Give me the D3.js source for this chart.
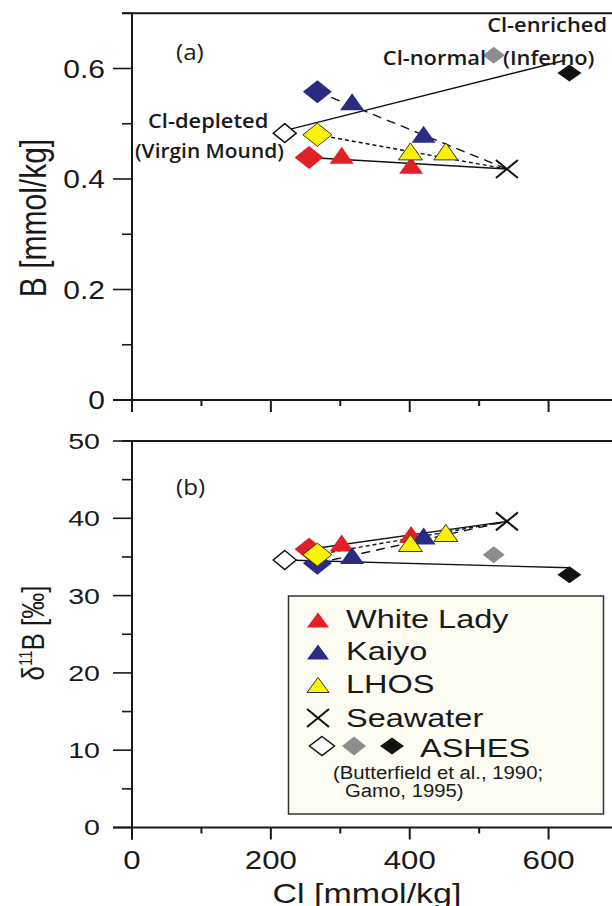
<!DOCTYPE html>
<html>
<head>
<meta charset="utf-8">
<style>
  body { margin: 0; background: #fff; }
  svg { display: block; }
</style>
</head>
<body>
<svg id="chart" width="612" height="906"></svg>
<script src="https://cdn.jsdelivr.net/npm/d3@7/dist/d3.min.js"></script>
<script>
// Cl [mmol/kg], B [mmol/kg], d11B [permil]
const seriesNames = ["White Lady", "Kaiyo", "LHOS"];
const seriesColors = ["#e11f26", "#2a2c83", "#fff200"];
const seriesDash = [null, "9,6", "4,3"];

// triangles (two samples per field)
const wlCl = [302, 402], wlB = [0.443, 0.425], wlD = [36.8, 37.9];
const kaCl = [317, 420], kaB = [0.540, 0.481], kaD = [35.2, 37.7];
const lhCl = [401, 452], lhB = [0.450, 0.450], lhD = [36.8, 38.1];

// end-member diamonds: White Lady, Kaiyo, LHOS
const emCl = [255, 267, 267];
const emB = [0.439, 0.558, 0.480];
const emD = [36.0, 34.2, 35.3];

// seawater
const swCl = [540], swB = [0.418], swD = [39.6];

// ASHES: Cl-depleted, Cl-normal, Cl-enriched
const ashCl = [220, 521, 630];
const ashB = [0.483, 0.624, 0.592];
const ashD = [34.6, 35.3, 32.7];
const ashFill = ["#fff", "#8d8d8d", "#111"];
// ASHES trend lines
const ashLineClA = [224, 624], ashLineB = [0.489, 0.615];
const ashLineClB = [220, 631], ashLineD = [34.6, 33.6];

const xMajor = [0, 200, 400, 600], xMinor = [100, 300, 500, 700];
const bMajor = [0, 0.2, 0.4, 0.6], bMinor = [0.1, 0.3, 0.5, 0.7];
const dMajor = [0, 10, 20, 30, 40, 50], dMinor = [5, 15, 25, 35, 45];

const svg = d3.select("#chart");
const W = 612;

const x = d3.scaleLinear().domain([0, 700]).range([132, 618]);
const yA = d3.scaleLinear().domain([0, 0.7]).range([400, 13.25]);
const yB = d3.scaleLinear().domain([0, 50]).range([827.5, 441]);

const arial = "'Liberation Sans', Arial, Helvetica, sans-serif";
const myriad = "'Open Sans', 'Noto Sans', sans-serif";

// text with horizontal stretch (figure is a bit wide)
function txt(g, s, px, py, size, sx, anchor, family, weight, rot) {
  const t = g.append("text")
    .attr("transform", `translate(${px},${py}) scale(${sx},1)` + (rot ? ` rotate(${rot})` : ""))
    .attr("text-anchor", anchor || "start")
    .attr("font-family", family || arial)
    .attr("font-size", size)
    .attr("font-weight", weight || "normal")
    .attr("fill", "#1a1a1a");
  if (s != null) t.text(s);
  return t;
}

function diamond(w, h) {
  return `M0,${-h / 2}L${w / 2},0L0,${h / 2}L${-w / 2},0Z`;
}
function triangle(w, h) {
  return `M0,${-h / 2}L${w / 2},${h / 2}L${-w / 2},${h / 2}Z`;
}
function cross(w, h) {
  return `M${-w / 2},${-h / 2}L${w / 2},${h / 2}M${w / 2},${-h / 2}L${-w / 2},${h / 2}`;
}

// ---------- axes ----------
function panelAxes(y, major, minor, fmt, labelEnd, labelSize, labelSx) {
  const g = svg.append("g").attr("stroke", "#1a1a1a");
  const yTop = y(d3.max(major.concat(minor)));
  // frame top and x axis line
  g.append("line").attr("x1", x(0) - 10).attr("x2", W).attr("y1", yTop).attr("y2", yTop).attr("stroke-width", 2);
  g.append("line").attr("x1", x(0) - 19).attr("x2", W).attr("y1", y(0)).attr("y2", y(0)).attr("stroke-width", 2);
  // y axis line
  g.append("line").attr("x1", x(0)).attr("x2", x(0)).attr("y1", y.range()[1]).attr("y2", y(0) + 12).attr("stroke-width", 2);
  // y ticks
  g.selectAll(".ymaj").data(major).join("line")
    .attr("x1", x(0) - 19).attr("x2", x(0)).attr("y1", d => y(d)).attr("y2", d => y(d)).attr("stroke-width", 1.6);
  g.selectAll(".ymin").data(minor).join("line")
    .attr("x1", x(0) - 10).attr("x2", x(0)).attr("y1", d => y(d)).attr("y2", d => y(d)).attr("stroke-width", 1.6);
  // x ticks
  g.selectAll(".xmaj").data(xMajor).join("line")
    .attr("x1", d => x(d)).attr("x2", d => x(d)).attr("y1", y(0)).attr("y2", y(0) + 12).attr("stroke-width", 2);
  g.selectAll(".xmin").data(xMinor).join("line")
    .attr("x1", d => x(d)).attr("x2", d => x(d)).attr("y1", y(0)).attr("y2", y(0) + 6).attr("stroke-width", 2);
  // y tick labels
  const lg = svg.append("g");
  major.forEach(v => {
    txt(lg, fmt(v), labelEnd, y(v), labelSize, labelSx, "end").attr("dy", "0.36em");
  });
}

panelAxes(yA, bMajor, bMinor, d => d === 0 ? "0" : d3.format(".1f")(d), 105, 25, 1.2);
panelAxes(yB, dMajor, dMinor, d => String(d), 100, 22, 1.3);

// x tick labels (bottom only)
const xl = svg.append("g");
xMajor.forEach(v => txt(xl, String(v), x(v), 869, 26, 1.2, "middle"));
txt(xl, "Cl [mmol/kg]", 367, 903, 27, 1.26, "middle");

// y titles
txt(svg, "B [mmol/kg]", 46, 218, 30, 1.2, "middle", arial, "normal", -90);
const t2 = txt(svg, null, 44, 633, 26, 1.2, "middle", arial, "normal", -90);
t2.append("tspan").text("δ");
t2.append("tspan").attr("font-size", 15).attr("dy", -10).text("11");
t2.append("tspan").attr("dy", 10).text("B [‰]");

// ---------- marks ----------
const tri = [
  { cl: wlCl, a: wlB, b: wlD },
  { cl: kaCl, a: kaB, b: kaD },
  { cl: lhCl, a: lhB, b: lhD }
];

function drawPanel(y, key, emVals, swVals, ashVals, lineCl, lineV) {
  const g = svg.append("g");
  const line = d3.line().x(d => x(d[0])).y(d => y(d[1]));
  // mixing lines end-member -> seawater
  seriesNames.forEach((n, i) => {
    g.append("path")
      .attr("d", line([[emCl[i], emVals[i]], [swCl[0], swVals[0]]]))
      .attr("fill", "none").attr("stroke", "#111").attr("stroke-width", 1.4)
      .attr("stroke-dasharray", seriesDash[i]);
  });
  // ASHES trend
  g.append("path")
    .attr("d", line(lineCl.map((c, i) => [c, lineV[i]])))
    .attr("fill", "none").attr("stroke", "#111").attr("stroke-width", 1.4);

  // ASHES diamonds
  const ashW = [23, 22, 24], ashH = [19, 17, 17];
  ashCl.forEach((c, i) => {
    g.append("path").attr("d", diamond(ashW[i], ashH[i]))
      .attr("transform", `translate(${x(c)},${y(ashVals[i])})`)
      .attr("fill", ashFill[i])
      .attr("stroke", i === 0 ? "#111" : "none").attr("stroke-width", 1.5);
  });
  // end-member diamonds
  seriesNames.forEach((n, i) => {
    g.append("path").attr("d", diamond(29, 23))
      .attr("transform", `translate(${x(emCl[i])},${y(emVals[i])})`)
      .attr("fill", seriesColors[i])
      .attr("stroke", i === 2 ? "#333" : "none").attr("stroke-width", 1);
  });
  // triangles
  tri.forEach((s, i) => {
    s.cl.forEach((c, j) => {
      g.append("path").attr("d", triangle(24, 17))
        .attr("transform", `translate(${x(c)},${y(s[key][j])})`)
        .attr("fill", seriesColors[i])
        .attr("stroke", i === 2 ? "#333" : "none").attr("stroke-width", 1);
    });
  });
  // seawater
  g.append("path").attr("d", cross(22, 18))
    .attr("transform", `translate(${x(swCl[0])},${y(swVals[0])})`)
    .attr("fill", "none").attr("stroke", "#111").attr("stroke-width", 2);
}

drawPanel(yA, "a", emB, swB, ashB, ashLineClA, ashLineB);
drawPanel(yB, "b", emD, swD, ashD, ashLineClB, ashLineD);

// ---------- annotations ----------
const an = svg.append("g");
txt(an, "(a)", 176, 60, 22, 1.1, "start", myriad);
txt(an, "(b)", 176, 495, 22, 1.1, "start", myriad);
txt(an, "Cl-enriched", 607, 32, 19, 1.15, "end", myriad, 600);
txt(an, "Cl-normal", 486, 65, 19, 1.15, "end", myriad, 600);
txt(an, "(Inferno)", 503, 65, 19, 1.15, "start", myriad, 600);
txt(an, "Cl-depleted", 148, 128, 19, 1.15, "start", myriad, 600);
txt(an, "(Virgin Mound)", 135, 158, 19, 1.1, "start", myriad, 600);

// ---------- legend ----------
const lg = svg.append("g");
lg.append("rect").attr("x", 288.5).attr("y", 596).attr("width", 315).attr("height", 218)
  .attr("fill", "#fcfcf3").attr("stroke", "#333").attr("stroke-width", 1.5);
const legY = [620, 652, 685];
seriesNames.forEach((n, i) => {
  lg.append("path").attr("d", triangle(22, 15))
    .attr("transform", `translate(318,${legY[i]})`)
    .attr("fill", seriesColors[i])
    .attr("stroke", i === 2 ? "#333" : "none").attr("stroke-width", 1);
  txt(lg, n, 346, legY[i] + 8, 25, 1.3, "start");
});
lg.append("path").attr("d", cross(22, 18)).attr("transform", "translate(318,718)")
  .attr("fill", "none").attr("stroke", "#111").attr("stroke-width", 2);
txt(lg, "Seawater", 346, 727, 25, 1.3, "start");
const legDX = [322, 354, 392], legDW = [25, 24, 24], legDH = [19, 19, 17];
ashFill.forEach((f, i) => {
  lg.append("path").attr("d", diamond(legDW[i], legDH[i]))
    .attr("transform", `translate(${legDX[i]},746)`)
    .attr("fill", f).attr("stroke", i === 0 ? "#111" : "none").attr("stroke-width", 1.5);
});
txt(lg, "ASHES", 420, 757, 25, 1.3, "start");
txt(lg, "(Butterfield et al., 1990;", 333, 779, 18, 1.13, "start");
txt(lg, "Gamo, 1995)", 345, 797, 18, 1.13, "start");
</script>
</body>
</html>
